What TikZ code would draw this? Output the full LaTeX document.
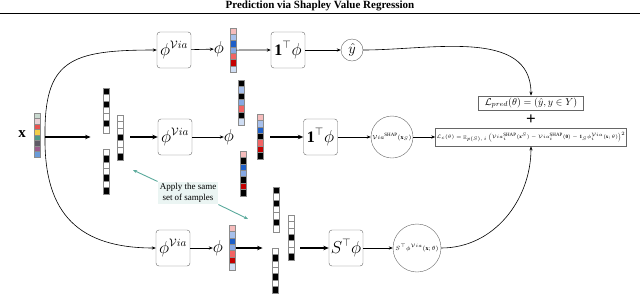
\documentclass[tikz,border=0pt]{standalone}
\usepackage{fontspec}
\setmainfont{Liberation Serif}
\usepackage{amsmath,amssymb}
\usetikzlibrary{positioning,arrows.meta,calc,fit}

\definecolor{xa}{HTML}{C9D9CF}
\definecolor{xb}{HTML}{E8D0D4}
\definecolor{xc}{HTML}{E8524F}
\definecolor{xd}{HTML}{F2CF4A}
\definecolor{xe}{HTML}{4E9A8A}
\definecolor{xf}{HTML}{5F5A66}
\definecolor{xg}{HTML}{9B5B8C}
\definecolor{xh}{HTML}{6A9BD8}
\definecolor{cpink}{HTML}{F6BCBC}
\definecolor{clblue}{HTML}{A7C0EC}
\definecolor{cblue}{HTML}{1E5FC8}
\definecolor{cmblue}{HTML}{86A8E4}
\definecolor{clred}{HTML}{F26464}
\definecolor{cdred}{HTML}{C40000}
\definecolor{cpale}{HTML}{CFDDF3}
\definecolor{noteteal}{HTML}{5BAA9C}

% name, x centre, y top, cell height, colours
\newcommand{\cellstack}[5]{%
  \foreach \col [count=\i] in {#5}{%
    \draw[cell,fill=\col] ({#2-3},{#3+(\i-1)*#4}) rectangle ++(6,#4);
    \xdef\ncell{\i}}%
  \pgfmathsetmacro\stackl{#2-3}\pgfmathsetmacro\stackr{#2+3}%
  \pgfmathsetmacro\stackb{#3+\ncell*#4}%
  \node[fit={(\stackl,#3) (\stackr,\stackb)},inner sep=0pt] (#1) {};}

\begin{document}
\begin{tikzpicture}[x=1pt,y=-1pt,
   box/.style={draw=black!60,rounded corners=3pt,minimum width=34pt,minimum height=36pt,inner sep=0pt,font=\fontsize{16}{16}\selectfont},
   big/.style={inner sep=0pt,font=\fontsize{16}{16}\selectfont},
   circ/.style={circle,draw=black!60,inner sep=0pt},
   lossbox/.style={draw=black!60,line width=0.8pt,inner sep=1pt},
   cell/.style={draw=black!45,line width=0.4pt},
   arr/.style={-{Stealth[length=4pt,width=3.2pt]},line width=0.6pt},
   fat/.style={-{Stealth[length=5.5pt,width=4.5pt]},line width=1.1pt},
   tealarr/.style={-{Stealth[length=4pt,width=3.2pt]},noteteal,line width=0.9pt}]
  \useasboundingbox (0,0) rectangle (640,293);
  \node[font=\fontsize{11}{13}\selectfont\bfseries] (title) at (320,6) {Prediction via Shapley Value Regression};
  \draw[line width=1.2pt] (0,13.5) -- (640,13.5);

  \node[font=\fontsize{15}{15}\selectfont] (xlab) at (22,134) {$\mathbf{x}$};
  \cellstack{xvec}{37.5}{113}{5.5}{xa,xb,xc,xd,xe,xf,xg,xh}
  \coordinate (xout) at (45,137);

  \node[box] (phiA) at (174,50)  {$\phi^{\mathcal{V}ia}$};
  \node[box] (phiB) at (175,137) {$\phi^{\mathcal{V}ia}$};
  \node[box] (phiC) at (173,248) {$\phi^{\mathcal{V}ia}$};
  \draw[arr] (xout) .. controls (44,60) and (70,50) .. (phiA.west);
  \draw[arr] (xout) .. controls (44,215) and (80,248) .. (phiC.west);

  \node[big] (phiAt) at (219,49) {$\phi$};
  \draw[arr] (phiA) -- (phiAt);
  \cellstack{vA}{233}{28}{6.3}{cpink,clblue,cblue,cmblue,clred,cdred,cpale}
  \node[box] (oneA) at (288,50) {$\mathbf{1}^\top\phi$};
  \draw[arr] (vA) -- (oneA);
  \node[circ,minimum size=22pt,font=\fontsize{14}{14}\selectfont] (yh) at (352,50) {$\hat{y}$};
  \draw[arr] (oneA) -- (yh);
  \node[lossbox,minimum width=105pt,minimum height=14pt,font=\fontsize{10}{10}\selectfont] (lp) at (531,103) {$\mathcal{L}_{pred}(\theta)=(\hat{y},y\in Y)$};
  \draw[arr] (yh.east) to[out=0,in=90] (lp.north);
  \node[font=\fontsize{17}{17}\selectfont\bfseries] (plus) at (531,120) {+};

  \cellstack{mA1}{106}{88}{6.4}{black,white,black,white,white,black,white}
  \cellstack{mA2}{120}{115}{6.4}{white,white,white,black,white,white,black}
  \cellstack{mA3}{106}{149}{6.4}{white,black,white,white,black,white,black}
  \node[fit=(mA1)(mA2)(mA3),inner sep=0pt] (maskA) {};
  \draw[fat,shorten >=12pt] (xout) -- (maskA.west |- xout);
  \draw[fat,shorten <=7pt] (maskA.east |- phiB) -- (phiB);
  \node[big] (phiBt) at (229,137) {$\phi$};
  \draw[arr] (phiB) -- (phiBt);
  \cellstack{oB1}{241}{80}{6.4}{black,clblue,black,cmblue,clred,black,cpale}
  \cellstack{oB2}{260}{114}{6.4}{cpink,clblue,cblue,black,clred,cdred,black}
  \cellstack{oB3}{243}{151}{6.4}{cpink,black,cblue,cmblue,black,cdred,black}
  \node[fit=(oB1)(oB2)(oB3),inner sep=0pt] (outB) {};
  \node[box] (oneB) at (320.5,137) {$\mathbf{1}^\top\phi$};
  \draw[fat,shorten <=7pt] (outB.east |- oneB) -- (oneB);
  \node[circ,minimum size=42pt,font=\fontsize{6}{6}\selectfont] (vsB) at (392,137) {$\mathcal{V}ia^{\mathrm{SHAP}}(\mathbf{x}_S)$};
  \draw[arr] (oneB) -- (vsB);
  \node[lossbox,minimum width=185pt,minimum height=18pt,font=\fontsize{5}{6}\selectfont] (lc) at (531,137)
    {$\mathcal{L}_c(\theta)=\mathop{\mathbb{E}}_{p(S),\,i}\Big(\mathcal{V}ia_i^{\mathrm{SHAP}}(\mathbf{x}^S)-\mathcal{V}ia_i^{\mathrm{SHAP}}(\mathbf{0})-\mathbf{1}_S\phi_i^{\mathcal{V}ia}(\mathbf{x};\theta)\Big)^2$};
  \draw[arr] (vsB) -- (lc);

  \node[big] (phiCt) at (218,248) {$\phi$};
  \draw[arr] (phiC) -- (phiCt);
  \cellstack{vC}{232.5}{225}{6.4}{cpink,clblue,cblue,cmblue,clred,cdred,cpale}
  \cellstack{mC1}{276}{187}{6.4}{black,white,black,white,white,black,white}
  \cellstack{mC2}{291}{215}{6.4}{white,white,white,black,white,white,black}
  \cellstack{mC3}{275}{248}{6.4}{white,black,white,white,black,white,black}
  \node[fit=(mC1)(mC2)(mC3),inner sep=0pt] (maskC) {};
  \draw[fat,shorten >=9pt] (vC.east |- phiC) -- (maskC.west |- phiC);
  \node[box] (st) at (346,248) {$S^\top\phi$};
  \draw[fat,shorten <=6pt] (maskC.east |- st) -- (st);
  \node[circ,minimum size=48pt,font=\fontsize{6}{6}\selectfont] (sC) at (417,248) {$S^\top\phi^{\mathcal{V}ia}(\mathbf{x};\theta)$};
  \draw[arr] (st) -- (sC);
  \draw[arr] (sC.east) to[out=0,in=-90] (lc.south);

  \node[fill=noteteal!12,align=center,inner sep=2pt,font=\fontsize{9}{10.5}\selectfont] (note) at (188,193) {Apply the same\\set of samples};
  \coordinate (tA) at (133,170);
  \coordinate (tC) at (248,219);
  \draw[tealarr] (note.north west) -- (tA);
  \draw[tealarr] (note.south east) -- (tC);
\end{tikzpicture}
\end{document}
